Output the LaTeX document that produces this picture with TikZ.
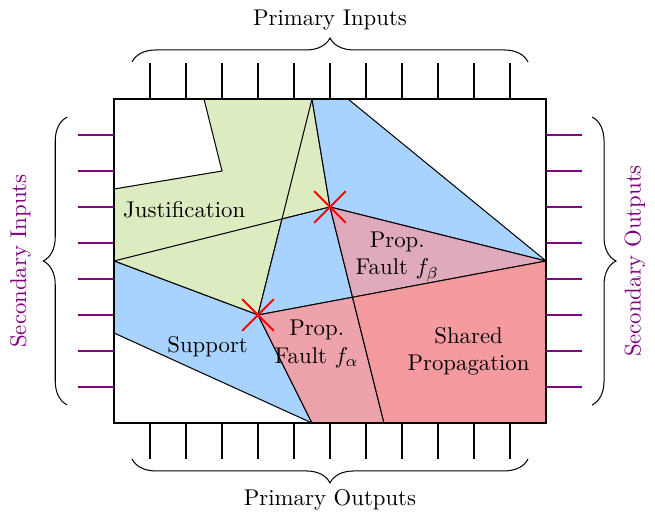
\documentclass[tikz,border=0pt]{standalone}
\usetikzlibrary{decorations.pathreplacing,calc}
\definecolor{jgreen}{HTML}{DCEBC0}
\definecolor{sblue}{HTML}{A9D3FF}
\definecolor{fbeta}{HTML}{DEAABC}
\definecolor{falpha}{HTML}{EEA3AC}
\definecolor{shared}{HTML}{F59BA0}
\definecolor{spurple}{HTML}{800080}
\tikzset{
  region/.style={draw=black, line width=0.45pt, line join=round},
  pin/.style={draw=black, line width=0.6pt},
  thickpin/.style={draw=black, line width=1.0pt},
  spin/.style={draw=spurple, line width=0.8pt},
  thickspin/.style={draw=spurple, line width=1.2pt},
  faultx/.style={draw=red, line width=0.85pt},
  bracestyle/.style={draw=black, line width=0.45pt, decorate, decoration={brace, amplitude=10.5pt}},
  lbl/.style={align=center, inner sep=1pt}
}
\begin{document}
\begin{tikzpicture}[x=0.5556cm, y=0.5556cm]
\useasboundingbox (-3.167,-2.528) rectangle (15.028,11.75);
% vertices
\coordinate (A) at (0,6.5);
\coordinate (N) at (3,7);
\coordinate (T0) at (2.5,9);
\coordinate (T1) at (5.5,9);
\coordinate (T2) at (6.5,9);
\coordinate (X1) at (6,6);
\coordinate (X2) at (4,3);
\coordinate (P) at (4.6667,5.6667);
\coordinate (Q) at (6.62687,3.49254);
\coordinate (R) at (12,4.5);
\coordinate (L) at (0,4.5);
\coordinate (S) at (0,2.5);
\coordinate (B1) at (5.5,0);
\coordinate (B2) at (7.5,0);
\coordinate (BR) at (12,0);
% regions
\path[region, fill=jgreen] (A) -- (N) -- (T0) -- (T1) -- (X1) -- (P) -- (X2) -- (L) -- cycle;
\draw[region] (L) -- (P) (T1) -- (P);
\path[region, fill=sblue] (T1) -- (T2) -- (R) -- (X1) -- cycle;
\path[region, fill=sblue] (P) -- (X1) -- (Q) -- (X2) -- cycle;
\path[region, fill=fbeta] (X1) -- (R) -- (Q) -- cycle;
\path[region, fill=sblue] (L) -- (X2) -- (B1) -- (S) -- cycle;
\path[region, fill=falpha] (X2) -- (Q) -- (B2) -- (B1) -- cycle;
\path[region, fill=shared] (Q) -- (R) -- (BR) -- (B2) -- cycle;
% chip outline
\draw[line width=0.45pt] (0,0) rectangle (12,9);
% primary inputs / outputs
\foreach \i in {1,2,7,8,9,10,11} { \draw[pin] (\i,9) -- (\i,10); }
\foreach \i in {3,4,5,6} { \draw[thickpin] (\i,9) -- (\i,10); }
\foreach \i in {1,...,11} { \draw[pin] (\i,0) -- (\i,-1); }
% secondary inputs / outputs
\foreach \j in {1,...,8} { \draw[spin] (-1,\j) -- (0,\j); }
\foreach \j in {5,...,8} { \draw[spin] (12,\j) -- (13,\j); }
\foreach \j in {1,...,4} { \draw[thickspin] (12,\j) -- (13,\j); }
% fault sites
\draw[faultx] ($(X1)+(-0.44,-0.44)$) -- ($(X1)+(0.44,0.44)$);
\draw[faultx] ($(X1)+(-0.44,0.44)$) -- ($(X1)+(0.44,-0.44)$);
\draw[faultx] ($(X2)+(-0.44,-0.44)$) -- ($(X2)+(0.44,0.44)$);
\draw[faultx] ($(X2)+(-0.44,0.44)$) -- ($(X2)+(0.44,-0.44)$);
% braces
\coordinate (tb1) at (0.5,10.03);
\coordinate (tb2) at (11.5,10.03);
\coordinate (bb1) at (11.5,-1.0);
\coordinate (bb2) at (0.5,-1.0);
\coordinate (lb1) at (-1.3,0.5);
\coordinate (lb2) at (-1.3,8.5);
\coordinate (rb1) at (13.28,8.5);
\coordinate (rb2) at (13.28,0.5);
\draw[bracestyle] (tb1) -- (tb2);
\draw[bracestyle] (bb1) -- (bb2);
\draw[bracestyle] (lb1) -- (lb2);
\draw[bracestyle] (rb1) -- (rb2);
% labels
\node[lbl] (pi) at (6,11.2) {Primary Inputs};
\node[lbl] (po) at (6,-2.13) {Primary Outputs};
\node[lbl, text=spurple, rotate=90] (si) at (-2.6,4.5) {Secondary Inputs};
\node[lbl, text=spurple, rotate=90] (so) at (14.47,4.5) {Secondary Outputs};
\node[lbl] (just) at (1.95,5.92) {Justification};
\node[lbl] (supp) at (2.6,2.12) {Support};
\node[lbl] (pfb) at (7.87,4.62) {Prop.\\Fault $f_\beta$};
\node[lbl] (pfa) at (5.63,2.2) {Prop.\\Fault $f_\alpha$};
\node[lbl] (shp) at (9.85,2.0) {Shared\\Propagation};
\end{tikzpicture}
\end{document}
